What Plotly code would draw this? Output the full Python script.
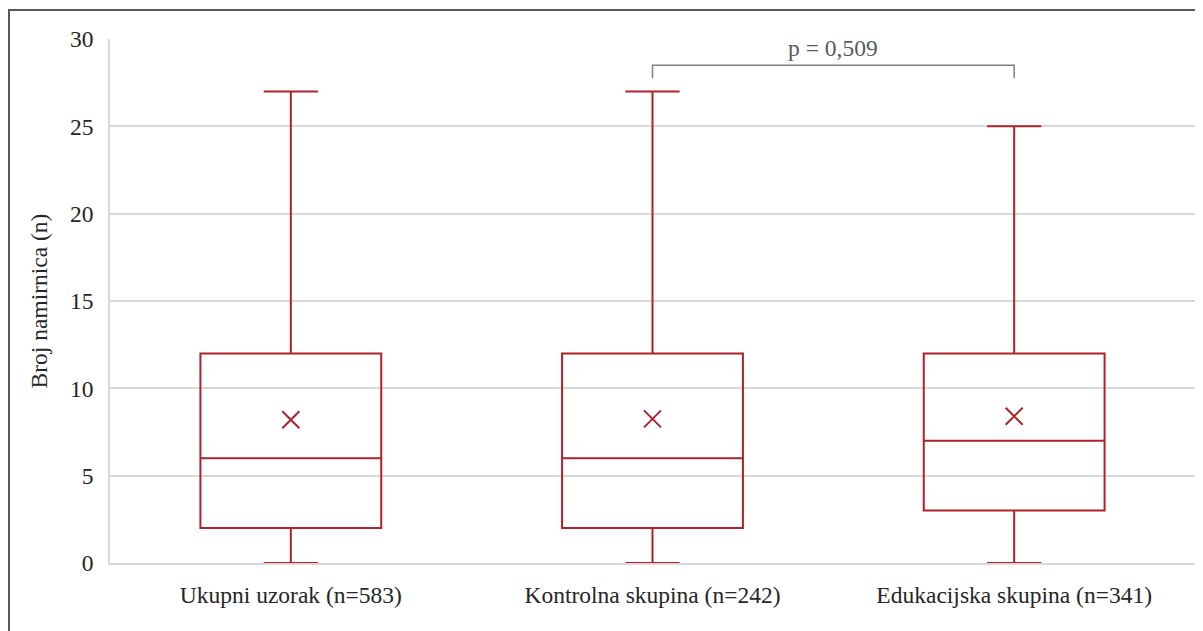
import plotly.graph_objects as go

categories = ["Ukupni uzorak (n=583)", "Kontrolna skupina (n=242)", "Edukacijska skupina (n=341)"]
minimum = [0, 0, 0]
q1 = [2, 2, 3]
median = [6, 6, 7]
q3 = [12, 12, 12]
maximum = [27, 27, 25]
mean = [8.2, 8.25, 8.4]
bracket_y_low = 27.75
bracket_y_high = 28.5
p_text = "p = 0,509"
y_title = "Broj namirnica (n)"

RED = "#AE2229"
GRID = "#D9D9D9"
FONT = "Liberation Serif, Times New Roman, serif"
FS = 23.5

fig = go.Figure()
fig.add_trace(go.Box(
    x=categories, q1=q1, median=median, q3=q3,
    lowerfence=minimum, upperfence=maximum,
    boxpoints=False, fillcolor="rgba(255,255,255,0)",
    line=dict(color=RED, width=2), whiskerwidth=0.3,
    showlegend=False, hoverinfo="skip",
))
fig.add_trace(go.Scatter(
    x=categories, y=mean, mode="markers",
    marker=dict(symbol="x-thin", size=17, line=dict(color=RED, width=2), color=RED),
    showlegend=False, hoverinfo="skip",
))
fig.add_trace(go.Scatter(
    x=[categories[1], categories[1], categories[2], categories[2]],
    y=[bracket_y_low, bracket_y_high, bracket_y_high, bracket_y_low],
    mode="lines", line=dict(color="#808080", width=1.5),
    showlegend=False, hoverinfo="skip",
))
fig.add_annotation(
    x=1.5, y=bracket_y_high, xref="x", yref="y", text=p_text,
    showarrow=False, yanchor="bottom", yshift=2,
    font=dict(family=FONT, size=FS, color="#595959"),
)
fig.add_shape(
    type="rect", xref="paper", yref="paper",
    x0=-0.0931, x1=1.03, y0=-0.2, y1=1.0553,
    line=dict(color="#595959", width=2), fillcolor="rgba(0,0,0,0)", layer="below",
)
fig.update_layout(
    width=1203, height=631,
    margin=dict(l=102, r=16, t=31, b=76, autoexpand=False),
    paper_bgcolor="white", plot_bgcolor="white",
    boxgap=0.5, boxgroupgap=0,
    font=dict(family=FONT, size=FS, color="#262626"),
)
fig.update_xaxes(
    type="category", showgrid=False, showline=True, linecolor=GRID, linewidth=2,
    ticks="outside", ticklen=10, tickcolor="rgba(0,0,0,0)",
    tickfont=dict(family=FONT, size=FS, color="#262626"),
)
fig.update_yaxes(
    range=[0, 30], dtick=5, showgrid=True, gridcolor=GRID, gridwidth=1.5,
    showline=True, linecolor=GRID, linewidth=1.5, zeroline=False,
    ticks="outside", ticklen=10, tickcolor="rgba(0,0,0,0)",
    tickfont=dict(family=FONT, size=FS, color="#262626"),
    title=dict(text=y_title, standoff=16, font=dict(family=FONT, size=FS, color="#262626")),
)
fig.write_html("out.html")
